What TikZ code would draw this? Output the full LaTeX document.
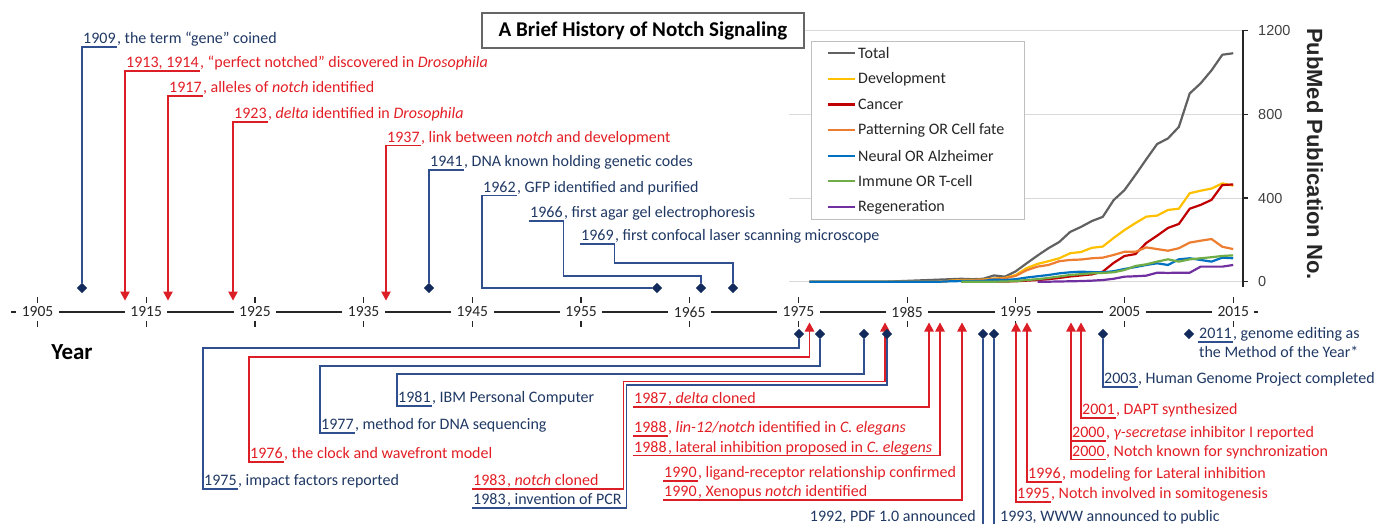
\documentclass[tikz,border=0pt]{standalone}
\usepackage{fontspec}
\setmainfont{Carlito}
\newfontfamily\numfont{Liberation Sans}
\usetikzlibrary{arrows.meta,shapes.geometric}

\definecolor{navytxt}{HTML}{1F3864}
\definecolor{navyln}{HTML}{2F4F8F}
\definecolor{navydot}{HTML}{122A5C}
\definecolor{redtxt}{HTML}{E21E24}
\definecolor{redln}{HTML}{DC1F26}
\definecolor{cTot}{HTML}{616161}
\definecolor{cDev}{HTML}{FFC000}
\definecolor{cCan}{HTML}{C00000}
\definecolor{cPat}{HTML}{ED7D31}
\definecolor{cNeu}{HTML}{0070C0}
\definecolor{cImm}{HTML}{70AD47}
\definecolor{cReg}{HTML}{7030A0}
\definecolor{gridgray}{HTML}{D9D9D9}

\newcommand{\evfont}{\fontsize{16}{19}\selectfont}

\begin{document}
\begin{tikzpicture}[x=1pt, y=-1pt,
        yr/.style={inner xsep=1pt, inner ysep=1pt, text depth=2pt, anchor=south west, font=\evfont},
        rest/.style={inner sep=0pt, anchor=base west, font=\evfont},
        evblue/.style={text=navytxt},
        evred/.style={text=redtxt},
        lnblue/.style={draw=navyln, line width=1.1pt},
        lnred/.style={draw=redln, line width=1.1pt},
        arrred/.style={lnred, {Triangle[length=9pt,width=9.5pt]}-},
        gem/.style={diamond, fill=navydot, inner sep=0pt, minimum size=10.5pt},
        axlbl/.style={fill=white, inner xsep=5.5pt, inner ysep=0pt, font=\fontsize{15.5}{18}\selectfont, text=black!85},
        axline/.style={draw=black!85, line width=1.4pt},
        grid/.style={draw=gridgray, line width=1pt},
        series/.style={line width=2.2pt, line join=round},
        legtxt/.style={anchor=west, inner sep=0pt, font=\fontsize{16}{19}\selectfont, text=black!85},
        numlbl/.style={anchor=west, inner sep=0pt, font=\numfont\fontsize{14.5}{17}\selectfont, text=black!75}
    ]
    \useasboundingbox (0,0) rectangle (1391,524);

    % chart: grid, axis, data
    \foreach \v in {0,400,800,1200} {
        \draw[grid] (789,{281.7-\v*0.2092}) -- (1243,{281.7-\v*0.2092});
        \draw[black!85, line width=1.2pt] (1243,{281.7-\v*0.2092}) -- ++(5,0);
        \node[numlbl] (v\v) at (1258,{281.7-\v*0.2092}) {\v};
    }
    \draw[black!85, line width=1.3pt] (1243,30) -- (1243,287);
    \node[rotate=-90, font=\numfont\bfseries\fontsize{22}{24}\selectfont, text=black!85] (ytitle) at (1315,154) {PubMed Publication No.};

    \begin{scope}[shift={(798.4,281.7)}, x=10.87pt, y=0.2092pt]
    \draw[series, cTot] plot coordinates {(1,0) (2,0) (3,0) (4,0) (5,0) (6,0) (7,0) (8,0) (9,2) (10,4) (11,6) (12,8) (13,10) (14,12) (15,14) (16,12) (17,14) (18,30) (19,24) (20,50) (21,88) (22,125) (23,160) (24,190) (25,238) (26,262) (27,290) (28,310) (29,390) (30,438) (31,510) (32,585) (33,658) (34,685) (35,740) (36,900) (37,948) (38,1010) (39,1085) (40,1092)};
    \draw[series, cDev] plot coordinates {(1,0) (13,0) (14,5) (15,8) (16,8) (17,10) (18,15) (19,18) (20,32) (21,65) (22,85) (23,98) (24,112) (25,136) (26,142) (27,162) (28,168) (29,209) (30,247) (31,280) (32,311) (33,316) (34,343) (35,349) (36,423) (37,435) (38,445) (39,470) (40,459)};
    \draw[series, cCan] plot coordinates {(15,0) (17,0) (18,1) (19,1) (20,2) (21,5) (22,8) (23,12) (24,18) (25,25) (26,30) (27,35) (28,48) (29,90) (30,123) (31,132) (32,185) (33,220) (34,257) (35,276) (36,349) (37,367) (38,391) (39,462) (40,465)};
    \draw[series, cPat] plot coordinates {(1,0) (13,0) (14,4) (15,6) (16,6) (17,8) (18,14) (19,16) (20,28) (21,55) (22,72) (23,80) (24,98) (25,104) (26,106) (27,112) (28,115) (29,128) (30,143) (31,143) (32,164) (33,156) (34,148) (35,160) (36,187) (37,196) (38,204) (39,167) (40,156)};
    \draw[series, cNeu] plot coordinates {(1,0) (13,0) (14,2) (15,3) (16,3) (17,4) (18,10) (19,8) (20,12) (21,20) (22,26) (23,32) (24,40) (25,45) (26,48) (27,46) (28,45) (29,50) (30,61) (31,70) (32,80) (33,88) (34,80) (35,107) (36,112) (37,104) (38,96) (39,115) (40,112)};
    \draw[series, cImm] plot coordinates {(15,0) (18,0) (19,1) (20,3) (21,8) (22,12) (23,18) (24,25) (25,32) (26,36) (27,40) (28,42) (29,45) (30,56) (31,75) (32,83) (33,96) (34,107) (35,96) (36,107) (37,112) (38,117) (39,123) (40,126)};
    \draw[series, cReg] plot coordinates {(22,0) (23,0) (24,1) (25,2) (26,3) (27,5) (28,8) (29,14) (30,24) (31,26) (32,29) (33,43) (34,42) (35,43) (36,43) (37,72) (38,72) (39,72) (40,80)};
    \end{scope}

    % legend
    \draw[black!25, fill=white, line width=0.8pt] (811,41) rectangle (1024,219);
    \foreach \nm/\cl [count=\i] in {Total/cTot, Development/cDev, Cancer/cCan, Patterning OR Cell fate/cPat, Neural OR Alzheimer/cNeu, Immune OR T-cell/cImm, Regeneration/cReg} {
        \draw[\cl, line width=2.2pt] (828,{53.3+(\i-1)*25.6}) -- ++(27,0);
        \node[legtxt] (leg\i) at (858,{53.3+(\i-1)*25.6}) {\nm};
    }

    % title
    \node[draw=black!60, line width=1.8pt, fill=white, minimum width=322pt, minimum height=35pt, font=\fontsize{21}{24}\bfseries\selectfont] (title) at (643,30.5) {A Brief History of Notch Signaling};

    % time axis
    \draw[axline] (11,312) -- (1258,312);
    \foreach \yy in {1905,1915,...,2015} {
        \pgfmathsetmacro\xx{37.5+(\yy-1905)*10.87}
        \node[axlbl] (ax\yy) at (\xx,312) {\yy};
        \draw[axline, line width=1.2pt] (\xx,297) -- ++(0,5.5) (\xx,321) -- ++(0,5.5);
    }
    \node[font=\fontsize{23}{26}\bfseries\selectfont] (yearlbl) at (72,352) {Year};

    % events above the axis
    \node[gem] (m1909) at (82,288) {};
    \node[yr, evblue] (t1909) at (82,47) {1909};
    \node[rest, evblue] (r1909) at (t1909.base east) {, the term “gene” coined};
    \draw[lnblue] (m1909) |- (t1909.south east);

    \coordinate (a1913) at (125,300.5);
    \node[yr, evred] (t1913) at (125,71) {1913, 1914};
    \node[rest, evred] (r1913) at (t1913.base east) {, “perfect notched” discovered in \textit{Drosophila}};
    \draw[arrred] (a1913) |- (t1913.south east);

    \coordinate (a1917) at (168,300.5);
    \node[yr, evred] (t1917) at (168,96) {1917};
    \node[rest, evred] (r1917) at (t1917.base east) {, alleles of \textit{notch} identified};
    \draw[arrred] (a1917) |- (t1917.south east);

    \coordinate (a1923) at (233,300.5);
    \node[yr, evred] (t1923) at (233,122) {1923};
    \node[rest, evred] (r1923) at (t1923.base east) {, \textit{delta} identified in \textit{Drosophila}};
    \draw[arrred] (a1923) |- (t1923.south east);

    \coordinate (a1937) at (386,300.5);
    \node[yr, evred] (t1937) at (386,145.5) {1937};
    \node[rest, evred] (r1937) at (t1937.base east) {, link between \textit{notch} and development};
    \draw[arrred] (a1937) |- (t1937.south east);

    \node[gem] (m1941) at (429,288) {};
    \node[yr, evblue] (t1941) at (429,170) {1941};
    \node[rest, evblue] (r1941) at (t1941.base east) {, DNA known holding genetic codes};
    \draw[lnblue] (m1941) |- (t1941.south east);

    \node[gem] (m1962) at (657,288) {};
    \node[yr, evblue] (t1962) at (482,195.5) {1962};
    \node[rest, evblue] (r1962) at (t1962.base east) {, GFP identified and purified};
    \draw[lnblue] (m1962) -| (t1962.south west) -- (t1962.south east);

    \node[gem] (m1966) at (701,288) {};
    \node[yr, evblue] (t1966) at (529,221) {1966};
    \node[rest, evblue] (r1966) at (t1966.base east) {, first agar gel electrophoresis};
    \draw[lnblue] (t1966.south west) -- (t1966.south east) |- (701,276) -- (m1966);

    \node[gem] (m1969) at (733,288) {};
    \node[yr, evblue] (t1969) at (580,244) {1969};
    \node[rest, evblue] (r1969) at (t1969.base east) {, first confocal laser scanning microscope};
    \draw[lnblue] (t1969.south west) -- (t1969.south east) |- (733,263) -- (m1969);

    % events below the axis
    \node[gem] (m1975) at (799,334) {};
    \node[yr, evblue] (t1975) at (203,489) {1975};
    \node[rest, evblue] (r1975) at (t1975.base east) {, impact factors reported};
    \draw[lnblue] (m1975) |- (203,348) |- (t1975.south east);

    \coordinate (a1976) at (809.5,322.5);
    \node[yr, evred] (t1976) at (249,462) {1976};
    \node[rest, evred] (r1976) at (t1976.base east) {, the clock and wavefront model};
    \draw[arrred] (a1976) |- (249,357) |- (t1976.south east);

    \node[gem] (m1977) at (820,334) {};
    \node[yr, evblue] (t1977) at (320,433) {1977};
    \node[rest, evblue] (r1977) at (t1977.base east) {, method for DNA sequencing};
    \draw[lnblue] (m1977) |- (320,366) |- (t1977.south east);

    \node[gem] (m1981) at (864,334) {};
    \node[yr, evblue] (t1981) at (397,406) {1981};
    \node[rest, evblue] (r1981) at (t1981.base east) {, IBM Personal Computer};
    \draw[lnblue] (m1981) |- (397,374) |- (t1981.south east);

    \coordinate (a1983) at (885,322.5);
    \node[yr, evred] (t1983a) at (472,489) {1983};
    \node[rest, evred] (r1983a) at (t1983a.base east) {, \textit{notch} cloned};
    \node[yr, evblue] (t1983b) at (472,508) {1983};
    \node[rest, evblue] (r1983b) at (t1983b.base east) {, invention of PCR};
    \draw[arrred] (a1983) |- (623.5,381.5) |- (t1983a.south west);
    \draw[lnblue] (887,334) |- (626.5,385) |- (t1983b.south west);
    \node[gem] (m1983) at (887,334) {};

    \coordinate (a1987) at (929,322.5);
    \node[yr, evred] (t1987) at (633,407) {1987};
    \node[rest, evred] (r1987) at (t1987.base east) {, \textit{delta} cloned};
    \draw[arrred] (a1987) |- (t1987.south west);

    \coordinate (a1988) at (940,322.5);
    \node[yr, evred] (t1988a) at (633,436) {1988};
    \node[rest, evred] (r1988a) at (t1988a.base east) {, \textit{lin-12/notch} identified in \textit{C. elegans}};
    \node[yr, evred] (t1988b) at (633,455.5) {1988};
    \node[rest, evred] (r1988b) at (t1988b.base east) {, lateral inhibition proposed in \textit{C. elegens}};
    \draw[lnred] (t1988a.south west) -- (t1988a.south east);
    \draw[arrred] (a1988) |- (t1988b.south west);

    \coordinate (a1990) at (962,322.5);
    \node[yr, evred] (t1990a) at (663,481) {1990};
    \node[rest, evred] (r1990a) at (t1990a.base east) {, ligand-receptor relationship confirmed};
    \node[yr, evred] (t1990b) at (663,500) {1990};
    \node[rest, evred] (r1990b) at (t1990b.base east) {, Xenopus \textit{notch} identified};
    \draw[lnred] (t1990a.south west) -- (t1990a.south east);
    \draw[arrred] (a1990) |- (t1990b.south west);

    \node[gem] (m1992) at (983,334) {};
    \coordinate (e1992) at (983,524);
    \draw[lnblue] (m1992) -- (e1992);
    \node[rest, evblue, anchor=base east] (t1992) at (976,521.5) {1992, PDF 1.0 announced};

    \node[gem] (m1993) at (994,334) {};
    \coordinate (e1993) at (994,524);
    \draw[lnblue] (m1993) -- (e1993);
    \node[rest, evblue] (t1993) at (1000,521.5) {1993, WWW announced to public};

    \coordinate (a1995) at (1016,322.5);
    \node[yr, evred] (t1995) at (1016,502) {1995};
    \node[rest, evred] (r1995) at (t1995.base east) {, Notch involved in somitogenesis};
    \draw[arrred] (a1995) |- (t1995.south east);

    \coordinate (a1996) at (1027,322.5);
    \node[yr, evred] (t1996) at (1027,482) {1996};
    \node[rest, evred] (r1996) at (t1996.base east) {, modeling for Lateral inhibition};
    \draw[arrred] (a1996) |- (t1996.south east);

    \coordinate (a2000) at (1071,322.5);
    \node[yr, evred] (t2000a) at (1071,441) {2000};
    \node[rest, evred] (r2000a) at (t2000a.base east) {, \textit{γ-secretase} inhibitor I reported};
    \node[yr, evred] (t2000b) at (1071,459.5) {2000};
    \node[rest, evred] (r2000b) at (t2000b.base east) {, Notch known for synchronization};
    \draw[lnred] (t2000a.south west) -- (t2000a.south east);
    \draw[arrred] (a2000) |- (t2000b.south east);

    \coordinate (a2001) at (1081,322.5);
    \node[yr, evred] (t2001) at (1081,418) {2001};
    \node[rest, evred] (r2001) at (t2001.base east) {, DAPT synthesized};
    \draw[arrred] (a2001) |- (t2001.south east);

    \node[gem] (m2003) at (1103,334) {};
    \node[yr, evblue] (t2003) at (1103,387) {2003};
    \node[rest, evblue] (r2003) at (t2003.base east) {, Human Genome Project completed};
    \draw[lnblue] (m2003) |- (t2003.south east);

    \node[gem] (m2011) at (1189,334) {};
    \node[yr, evblue] (t2011) at (1198,342) {2011};
    \node[rest, evblue] (r2011) at (t2011.base east) {, genome editing as};
    \node[rest, evblue] (s2011) at (1199,357.5) {the Method of the Year*};
    \draw[lnblue] (t2011.south west) -- (t2011.south east);
\end{tikzpicture}
\end{document}
